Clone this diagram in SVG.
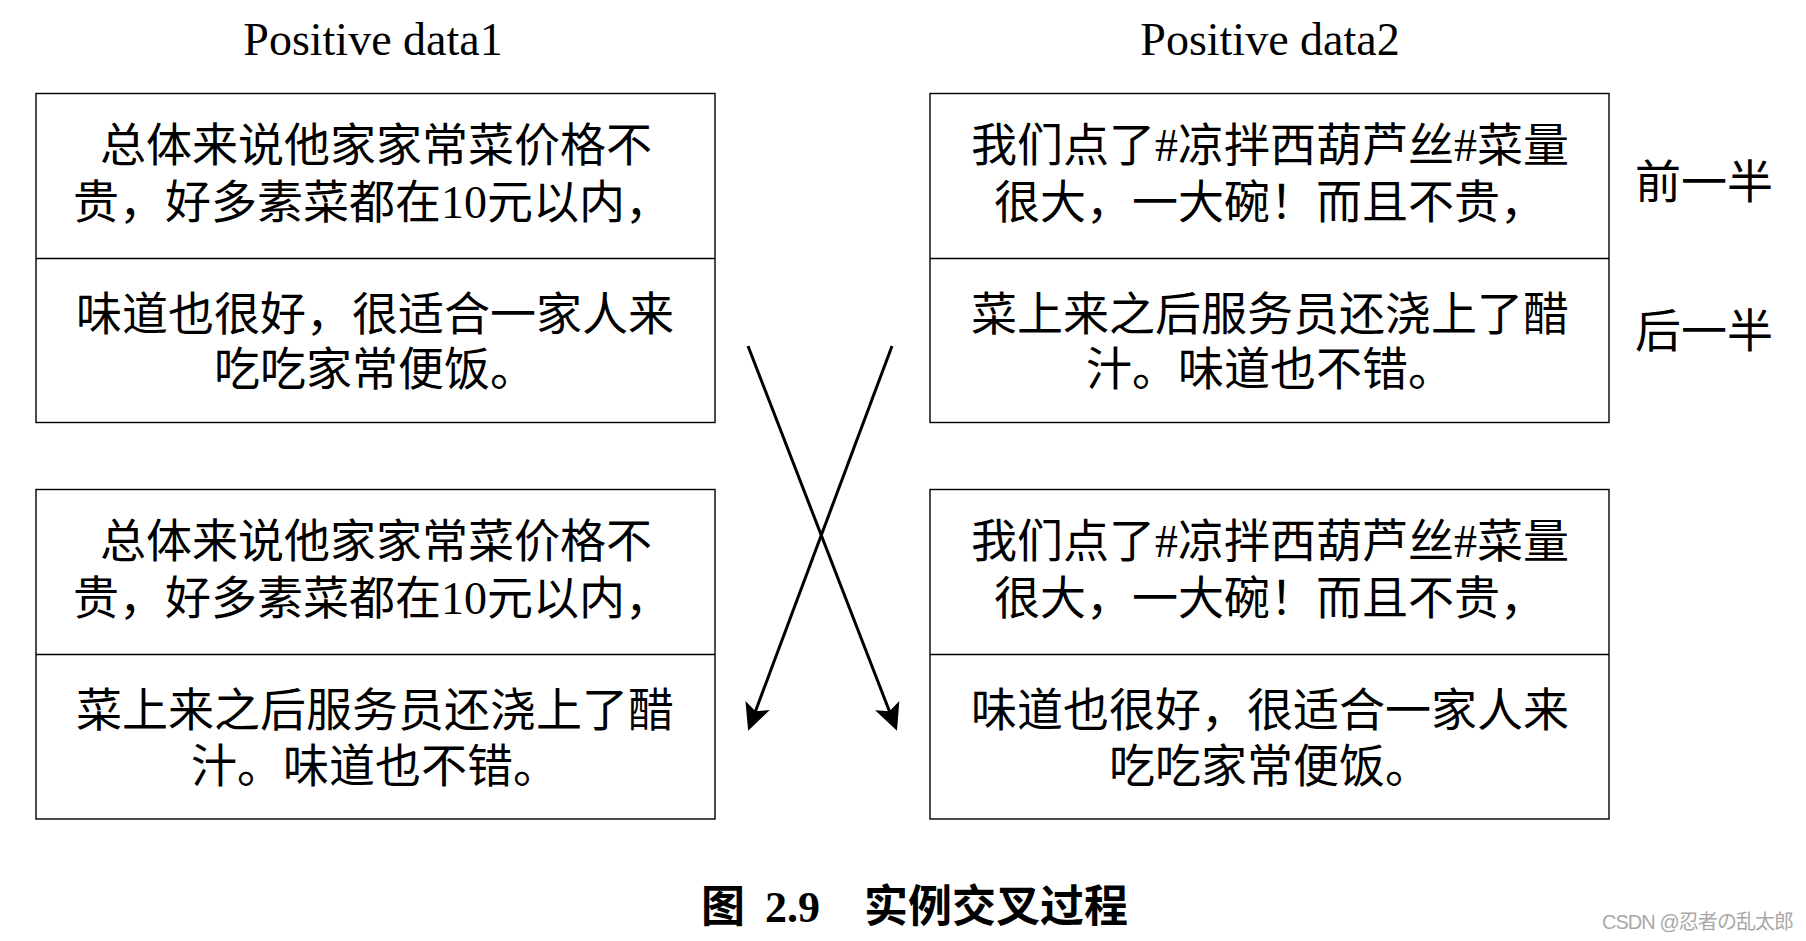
<svg xmlns="http://www.w3.org/2000/svg" width="1806" height="941" viewBox="0 0 1806 941">
<style>
.box{fill:#fff;stroke:#000;stroke-width:1.4}
.div{stroke:#000;stroke-width:1.4}
.t{font-family:"Liberation Serif","Noto Sans CJK SC",serif;font-size:46px;fill:#000;text-anchor:middle}
.ttl{font-family:"Liberation Serif",serif;font-size:46px;fill:#000;text-anchor:middle}
.side{font-family:"Noto Sans CJK SC",sans-serif;font-size:46px;fill:#000}
.cap{font-family:"Noto Sans CJK SC",sans-serif;font-size:44px;font-weight:bold;fill:#000}
.capn{font-family:"Liberation Serif",serif;font-size:44px;font-weight:bold;fill:#000}
.wm{font-family:"Liberation Sans","Noto Sans CJK SC",sans-serif;font-size:20px;fill:#a8a8a8}
.arrow{stroke:#000;stroke-width:3;fill:none;marker-end:url(#ah)}
</style>
<defs>
<marker id="ah" markerUnits="userSpaceOnUse" markerWidth="28" markerHeight="26" viewBox="0 0 28 26" refX="16" refY="13" orient="auto" overflow="visible">
<path d="M0,0 L27,13 L0,26 L6,13 Z" fill="#000"/>
</marker>
</defs>
<rect width="1806" height="941" fill="#fff"/>

<g id="title1"><text class="ttl" x="373" y="55">Positive data1</text></g>
<g id="title2"><text class="ttl" x="1270" y="55">Positive data2</text></g>

<g id="box-tl">
<rect class="box" x="36" y="93.5" width="679" height="329"/>
<line class="div" x1="36" y1="258.5" x2="715" y2="258.5"/>
<text class="t" x="376" y="160.5">总体来说他家家常菜价格不</text>
<text class="t" x="372" y="217.5">贵，好多素菜都在10元以内，</text>
<text class="t" x="375" y="329.5">味道也很好，很适合一家人来</text>
<text class="t" x="375" y="384.5">吃吃家常便饭。</text>
</g>

<g id="box-tr">
<rect class="box" x="930" y="93.5" width="679" height="329"/>
<line class="div" x1="930" y1="258.5" x2="1609" y2="258.5"/>
<text class="t" x="1270" y="160.5">我们点了#凉拌西葫芦丝#菜量</text>
<text class="t" x="1270" y="217.5">很大，一大碗！而且不贵，</text>
<text class="t" x="1270" y="329.5">菜上来之后服务员还浇上了醋</text>
<text class="t" x="1270" y="384.5">汁。味道也不错。</text>
</g>

<g id="label-first"><text class="side" x="1635" y="197.5">前一半</text></g>
<g id="label-second"><text class="side" x="1635" y="346.5">后一半</text></g>

<g id="box-bl">
<rect class="box" x="36" y="489.5" width="679" height="329.5"/>
<line class="div" x1="36" y1="654.5" x2="715" y2="654.5"/>
<text class="t" x="376" y="557">总体来说他家家常菜价格不</text>
<text class="t" x="372" y="614">贵，好多素菜都在10元以内，</text>
<text class="t" x="375" y="725.5">菜上来之后服务员还浇上了醋</text>
<text class="t" x="375" y="782">汁。味道也不错。</text>
</g>

<g id="box-br">
<rect class="box" x="930" y="489.5" width="679" height="329.5"/>
<line class="div" x1="930" y1="654.5" x2="1609" y2="654.5"/>
<text class="t" x="1270" y="557">我们点了#凉拌西葫芦丝#菜量</text>
<text class="t" x="1270" y="614">很大，一大碗！而且不贵，</text>
<text class="t" x="1270" y="725.5">味道也很好，很适合一家人来</text>
<text class="t" x="1270" y="782">吃吃家常便饭。</text>
</g>

<g id="connectors">
<line class="arrow" x1="748" y1="346" x2="893" y2="720.5"/>
<line class="arrow" x1="892" y1="346" x2="752" y2="720.5"/>
</g>

<g id="caption">
<text class="cap" x="701" y="922">图</text>
<text class="capn" x="765" y="922">2.9</text>
<text class="cap" x="864" y="922" textLength="264">实例交叉过程</text>
</g>

<g id="watermark"><text class="wm" x="1602" y="929" textLength="192">CSDN @忍者の乱太郎</text></g>
</svg>
